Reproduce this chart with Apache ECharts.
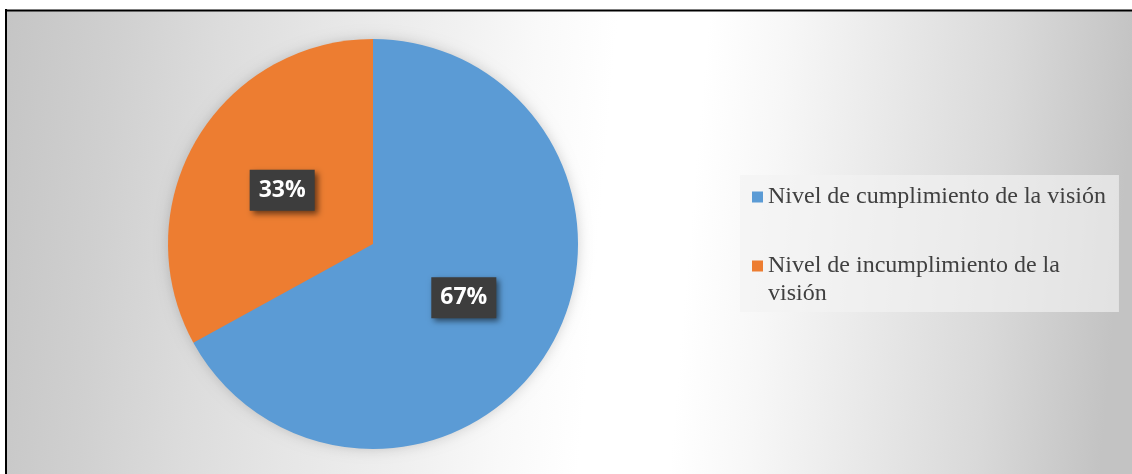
<!DOCTYPE html>
<html>
<head>
<meta charset="utf-8">
<script src="https://cdn.jsdelivr.net/npm/echarts@6/dist/echarts.min.js"></script>
<style>
html,body{margin:0;padding:0;background:#fff;}
#chart{width:1132px;height:474px;}
</style>
</head>
<body>
<div id="chart"></div>
<script>
const categories = ['Nivel de cumplimiento de la visión', 'Nivel de incumplimiento de la visión'];
const values = [67, 33];
const legendLines = [['Nivel de cumplimiento de la visión'], ['Nivel de incumplimiento de la', 'visión']];
const colors = ['#5b9bd5', '#ed7d31'];

const pieCenter = [373, 244];
const pieRadius = 205;

const chart = echarts.init(document.getElementById('chart'));
chart.setOption({
  animation: false,
  backgroundColor: '#ffffff',
  graphic: [
    {
      type: 'rect', z: -10, silent: true,
      shape: { x: 6, y: 10, width: 1130, height: 470 },
      style: {
        fill: new echarts.graphic.LinearGradient(6, 10, 1132, 108, [
          { offset: 0, color: '#c5c5c5' },
          { offset: 0.10, color: '#d0d0d0' },
          { offset: 0.19, color: '#dcdcdc' },
          { offset: 0.28, color: '#e6e6e6' },
          { offset: 0.40, color: '#f1f1f1' },
          { offset: 0.47, color: '#f9f9f9' },
          { offset: 0.54, color: '#ffffff' },
          { offset: 0.62, color: '#ffffff' },
          { offset: 0.69, color: '#f7f7f7' },
          { offset: 0.77, color: '#ebebeb' },
          { offset: 0.89, color: '#d9d9d9' },
          { offset: 1, color: '#c3c3c3' }
        ], true)
      }
    },
    {
      type: 'circle', z: -5, silent: true,
      shape: { cx: pieCenter[0], cy: pieCenter[1], r: pieRadius - 1 },
      style: { fill: '#5b9bd5', shadowBlur: 14, shadowColor: 'rgba(0,0,0,0.2)' }
    },
    { type: 'line', z: 100, silent: true, shape: { x1: 6, y1: 9, x2: 6, y2: 480 }, style: { stroke: '#000', lineWidth: 2 } },
    { type: 'line', z: 100, silent: true, shape: { x1: 5, y1: 10.5, x2: 1140, y2: 10.5 }, style: { stroke: '#000', lineWidth: 2 } }
  ],
  legend: {
    orient: 'vertical',
    left: 740,
    top: 175,
    selectedMode: false,
    backgroundColor: 'rgba(242,242,242,0.65)',
    padding: [8, 13, 4, 12],
    itemGap: 13,
    itemWidth: 11,
    itemHeight: 11,
    itemTextGap: 5,
    icon: 'rect',
    data: categories,
    formatter: function (name) {
      const lines = legendLines[categories.indexOf(name)];
      const pad = new Array(lines.length).join('\n');
      return pad + lines.join('\n');
    },
    textStyle: {
      fontFamily: 'Liberation Serif',
      fontSize: 24,
      lineHeight: 28,
      color: '#404040'
    }
  },
  series: [{
    type: 'pie',
    center: pieCenter,
    radius: pieRadius,
    startAngle: 90,
    clockwise: true,
    color: colors,
    itemStyle: { borderWidth: 0 },
    label: {
      show: true,
      position: 'inside',
      formatter: function (p) { return Math.round(p.percent) + '%'; },
      color: '#ffffff',
      fontFamily: 'Open Sans',
      fontWeight: 'bold',
      fontSize: 23,
      lineHeight: 25,
      backgroundColor: '#3d3d3d',
      padding: [8, 9, 8, 9],
      shadowColor: 'rgba(0,0,0,0.55)',
      shadowBlur: 6,
      shadowOffsetX: 3,
      shadowOffsetY: 3
    },
    labelLine: { show: false },
    emphasis: { disabled: true },
    data: categories.map((c, i) => ({ name: c, value: values[i] }))
  }]
});
</script>
</body>
</html>
